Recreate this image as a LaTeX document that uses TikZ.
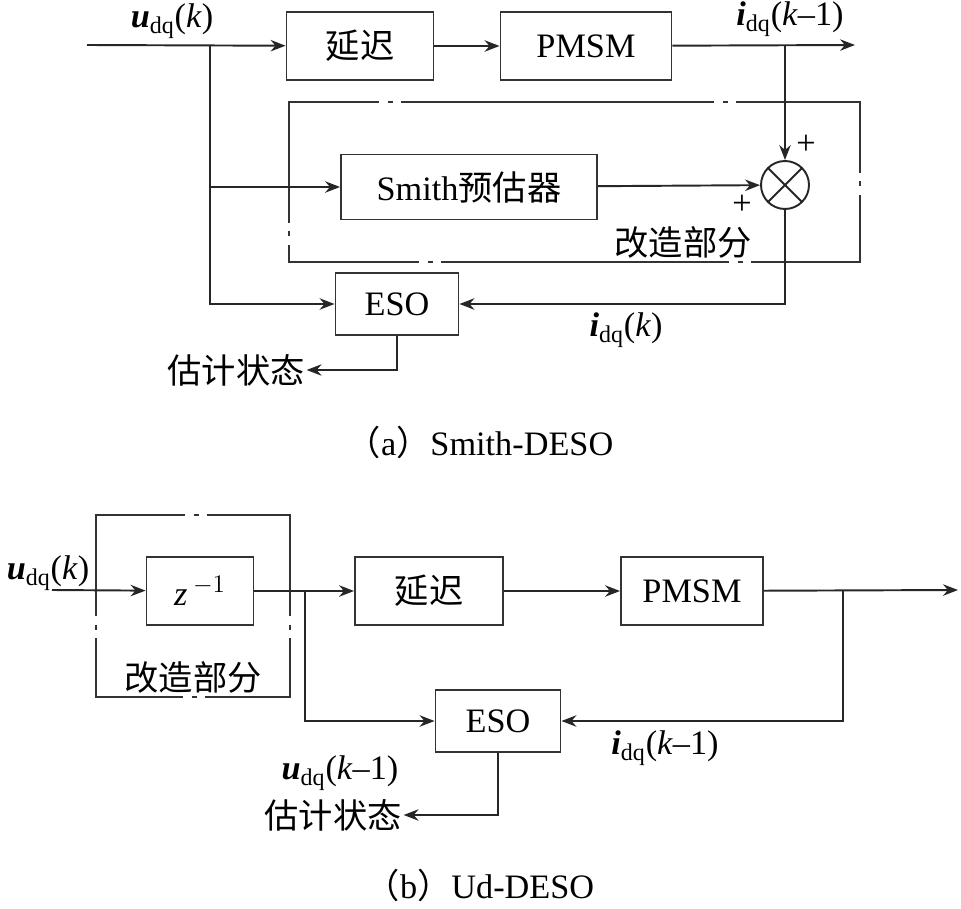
\documentclass[tikz,border=0pt]{standalone}
\usepackage{fontspec}
\setmainfont{Liberation Serif}
\newfontfamily\cjk{Noto Sans CJK SC}
\usetikzlibrary{
  arrows.meta,
  positioning
}

\begin{document}
\begin{tikzpicture}[
  x=0.02cm, y=-0.02cm,
  font=\fontsize{19.5}{22}\selectfont,
  box/.style={rectangle, draw=black!80, line width=1.1pt, minimum height=1.36cm, minimum width=#1, inner sep=0pt},
  arrow/.style={-{Stealth[length=8.5pt,width=6.5pt]}, line width=1.1pt, color=black!85},
  group/.style={draw=black!80, line width=1.1pt},
  gapcut/.style={white, line width=3pt},
  gapdot/.style={black!80, line width=1.1pt},
  sumnode/.style={circle, draw=black!85, line width=1.1pt, minimum size=0.96cm, inner sep=0pt,
    path picture={\draw[line width=1.1pt, black!85] (path picture bounding box.north west) -- (path picture bounding box.south east)
      (path picture bounding box.north east) -- (path picture bounding box.south west);}},
  lbl/.style={inner sep=1pt}
]
\useasboundingbox (0,0) rectangle (961,909);

% (a) Smith-DESO
\node[box=2.94cm] (delaya) at (360,46) {\cjk 延迟};
\node[box=3.42cm] (pmsma) at (586,46) {PMSM};
\node[box=5.12cm, minimum height=1.3cm] (smitha) at (469,187) {Smith{\cjk 预估器}};
\node[sumnode] (suma) at (785,185) {};
\node[box=2.46cm, minimum height=1.24cm] (esoa) at (397,304) {ESO};
\draw[group] (289,102) rectangle (860,262);

\coordinate (ina) at (87,45);
\coordinate (bra) at (210,45);
\coordinate (tapa) at (785,45);
\coordinate (outa) at (855,45);

\node[lbl] (ua) at (172,21) {{\bfseries\itshape u}\textsubscript{dq}(\textit{k})};
\node[lbl] (ia) at (790,19) {{\bfseries\itshape i}\textsubscript{dq}(\textit{k}--1)};
\node[lbl] (pta) at (806,145) {+};
\node[lbl] (pla) at (742,205) {+};
\node[lbl] (grpa) at (683,242) {\cjk 改造部分};
\node[lbl] (ika) at (626,330) {{\bfseries\itshape i}\textsubscript{dq}(\textit{k})};
\node[lbl] (esta) at (236,370) {\cjk 估计状态};

\draw[arrow] (ina) -- (delaya);
\draw[arrow] (delaya) -- (pmsma);
\draw[arrow] (pmsma) -- (outa);
\draw[arrow] (bra) |- (esoa);
\draw[arrow] (bra |- smitha) -- (smitha);
\draw[arrow] (tapa) -- (suma);
\draw[arrow] (smitha) -- (suma);
\draw[arrow] (suma) |- (esoa);
\draw[arrow] (esoa) |- (esta);

\node[lbl] (capa) at (480,442) {{\cjk （}a{\cjk ）}Smith-DESO};

% (b) Ud-DESO
\node[box=2.14cm] (zb) at (200,591) {\textit{z}\,$^{-1}$};
\node[box=2.96cm] (delayb) at (429,591) {\cjk 延迟};
\node[box=2.84cm] (pmsmb) at (692,591) {PMSM};
\node[box=2.5cm, minimum height=1.24cm] (esob) at (498,721) {ESO};
\draw[group] (96,515) rectangle (290,697);

\coordinate (inb) at (52,590);
\coordinate (brb) at (305,590);
\coordinate (tapb) at (843,590);
\coordinate (outb) at (958,590);

\node[lbl] (ub) at (48,573) {{\bfseries\itshape u}\textsubscript{dq}(\textit{k})};
\node[lbl] (grpb) at (193,677) {\cjk 改造部分};
\node[lbl] (ib) at (665,748) {{\bfseries\itshape i}\textsubscript{dq}(\textit{k}--1)};
\node[lbl] (uk) at (340,773) {{\bfseries\itshape u}\textsubscript{dq}(\textit{k}--1)};
\node[lbl] (estb) at (333,815) {\cjk 估计状态};

\draw[arrow] (inb) -- (zb);
\draw[arrow] (zb) -- (delayb);
\draw[arrow] (delayb) -- (pmsmb);
\draw[arrow] (pmsmb) -- (outb);
\draw[arrow] (brb) |- (esob);
\draw[arrow] (tapb) |- (esob);
\draw[arrow] (esob) |- (estb);

% dash-dot breaks of the two frames
\foreach \x/\y in {390/102, 725/102, 430/262, 740/262, 196/515, 194/697} {
  \draw[gapcut] (\x-11,\y) -- (\x+11,\y);
  \draw[gapdot] (\x-2.5,\y) -- (\x+2.5,\y);
}
\foreach \x/\y in {289/234, 860/184, 96/627, 290/627} {
  \draw[gapcut] (\x,\y-11) -- (\x,\y+11);
  \draw[gapdot] (\x,\y-2.5) -- (\x,\y+2.5);
}

\node[lbl] (capb) at (480,885) {{\cjk （}b{\cjk ）}Ud-DESO};

\end{tikzpicture}
\end{document}
